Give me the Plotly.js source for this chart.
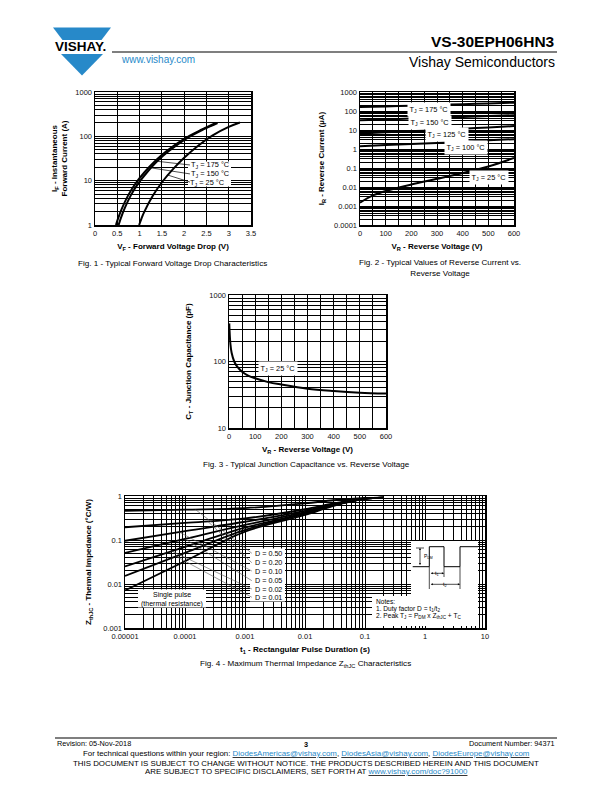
<!DOCTYPE html>
<html><head><meta charset="utf-8">
<script src="https://cdn.plot.ly/plotly-3.0.1.min.js"></script>
<style>html,body{margin:0;padding:0;background:#fff}</style>
</head><body><div id="chart" style="width:612px;height:792px"></div>
<script>
// ---------- Fig. 1 data: forward voltage (V) vs current (A) ----------
const fig1_v175 = [0.47,0.52,0.6,0.75,0.92,1.1,1.35,1.6,2.0,2.4,2.71];
const fig1_i175 = [1,1.43,2.31,4.78,8.9,15.1,27.7,45.9,88,143,200];
const fig1_v150 = [0.53,0.58,0.66,0.81,0.98,1.16,1.4,1.65,2.04,2.43,2.75];
const fig1_i150 = [1,1.43,2.31,4.78,8.9,15.1,27.7,45.9,88,143,200];
const fig1_v25  = [0.99,1.04,1.1,1.3,1.52,1.75,2.0,2.3,2.64,3.0,3.25];
const fig1_i25  = [1,1.38,1.93,4.63,9.7,18.2,32.9,60,105,163,205];
const fig1_xticks = [0,0.5,1,1.5,2,2.5,3,3.5];
const fig1_xlabels = ['0','0.5','1','1.5','2','2.5','3','3.5'];
const fig1_yticks = [1,10,100,1000];
const fig1_ylabels = ['1','10','100','1000'];

// ---------- Fig. 2 data: reverse voltage (V) vs reverse current (µA) ----------
const fig2_v = [0,100,200,300,400,500,600];
const fig2_i175 = [160,175,190,208,228,250,275];
const fig2_i150 = [33,36,40,44,49,54,60];
const fig2_i125 = [6.5,7.5,8.7,10,11.6,13.6,16];
const fig2_i100 = [1.4,1.6,1.85,2.1,2.45,2.85,3.3];
const fig2_v25 = [0,50,100,200,300,400,500,600];
const fig2_i25 = [0.0015,0.0036,0.0062,0.0135,0.027,0.055,0.12,0.34];
const fig2_xticks = [0,100,200,300,400,500,600];
const fig2_yticks = [0.0001,0.001,0.01,0.1,1,10,100,1000];
const fig2_ylabels = ['0.0001','0.001','0.01','0.1','1','10','100','1000'];

// ---------- Fig. 3 data: reverse voltage (V) vs junction capacitance (pF) ----------
const fig3_v = [1,3,5,10,20,30,50,75,100,150,200,300,400,500,600];
const fig3_c = [374,250,190,135,100,85,70,61,56,49,45,39,36,34,33];
const fig3_xticks = [0,100,200,300,400,500,600];
const fig3_yticks = [10,100,1000];
const fig3_ylabels = ['10','100','1000'];

// ---------- Fig. 4 data: pulse duration (s) vs thermal impedance (°C/W) ----------
const fig4_t = [1e-5,1e-4,1e-3,1e-2,3e-2,1e-1,2e-1];
const fig4_d50 = [0.46,0.49,0.53,0.68,0.80,0.90,0.92];
const fig4_d20 = [0.195,0.245,0.31,0.50,0.68,0.88,0.92];
const fig4_d10 = [0.096,0.16,0.26,0.46,0.65,0.87,0.92];
const fig4_d05 = [0.051,0.106,0.22,0.43,0.63,0.87,0.92];
const fig4_d02 = [0.025,0.07,0.19,0.41,0.62,0.86,0.92];
const fig4_d01 = [0.0152,0.051,0.17,0.39,0.61,0.86,0.92];
const fig4_single = [0.0071,0.033,0.155,0.37,0.60,0.86,0.92];
const fig4_xticks = [1e-5,1e-4,1e-3,1e-2,1e-1,1,10];
const fig4_xlabels = ['0.00001','0.0001','0.001','0.01','0.1','1','10'];
const fig4_yticks = [0.001,0.01,0.1,1];
const fig4_ylabels = ['0.001','0.01','0.1','1'];
const fig4_dlabels = ['D = 0.50','D = 0.20','D = 0.10','D = 0.05','D = 0.02','D = 0.01'];

// ---------- page geometry helpers ----------
const W = 612, H = 792;
const X = p => p / W;          // page px -> paper x
const Y = p => 1 - p / H;      // page px -> paper y
const F = 'Liberation Sans, Arial, Helvetica, sans-serif';
const BLUE = '#2789c9';

function logMinor(d0, d1) {
  const v = [];
  for (let d = d0; d < d1; d++) for (let k = 2; k <= 9; k++) v.push(k * Math.pow(10, d));
  return v;
}
function linMinor(a, b, step, major) {
  const v = [];
  for (let x = a; x <= b + 1e-9; x += step) if (Math.abs((x / major) - Math.round(x / major)) > 1e-6) v.push(x);
  return v;
}
const TICKFONT = {family: F, size: 7.5, color: '#111'};
const TITLEFONT = {family: F, size: 8, color: '#000', weight: 700};
function axis(o) {
  return Object.assign({
    showline: true, linecolor: '#000', linewidth: 1.5, mirror: true,
    ticks: '', showgrid: true, gridcolor: '#000', gridwidth: 1,
    zeroline: false, tickfont: TICKFONT, automargin: false, fixedrange: true
  }, o);
}
function minorGrid(vals) {
  return {tickmode: 'array', tickvals: vals, showgrid: true, gridcolor: '#000', gridwidth: 1, ticks: ''};
}
function line(x, y, xa, ya, w) {
  return {x: x, y: y, xaxis: xa, yaxis: ya, mode: 'lines', hoverinfo: 'skip',
          line: {color: '#000', width: w || 2, shape: 'spline', smoothing: 1}};
}

const traces = [
  line(fig1_v175, fig1_i175, 'x', 'y'),
  line(fig1_v150, fig1_i150, 'x', 'y'),
  line(fig1_v25, fig1_i25, 'x', 'y'),
  line(fig2_v, fig2_i175, 'x2', 'y2'),
  line(fig2_v, fig2_i150, 'x2', 'y2'),
  line(fig2_v, fig2_i125, 'x2', 'y2'),
  line(fig2_v, fig2_i100, 'x2', 'y2'),
  line(fig2_v25, fig2_i25, 'x2', 'y2'),
  line(fig3_v, fig3_c, 'x3', 'y3'),
  line(fig4_t, fig4_d50, 'x4', 'y4', 1.8),
  line(fig4_t, fig4_d20, 'x4', 'y4', 1.8),
  line(fig4_t, fig4_d10, 'x4', 'y4', 1.8),
  line(fig4_t, fig4_d05, 'x4', 'y4', 1.8),
  line(fig4_t, fig4_d02, 'x4', 'y4', 1.8),
  line(fig4_t, fig4_d01, 'x4', 'y4', 1.8),
  line(fig4_t, fig4_single, 'x4', 'y4', 1.8)
];

const ann = [];
function txt(text, px, py, o) {
  ann.push(Object.assign({text: text, x: X(px), y: Y(py), xref: 'paper', yref: 'paper',
    showarrow: false, xanchor: 'center', yanchor: 'middle',
    font: {family: F, size: 7.4, color: '#000'}}, o || {}));
}

// header
txt('<b>VS-30EPH06HN3</b>', 557, 42, {xanchor: 'right', font: {family: F, size: 15.5, color: '#000'}});
txt('Vishay Semiconductors', 557, 62, {xanchor: 'right', font: {family: F, size: 14, color: '#000'}});
txt('www.vishay.com', 119, 59, {xanchor: 'left', font: {family: F, size: 10, color: BLUE}});
txt('<b>VISHAY.</b>', 80, 46.5, {font: {family: F, size: 13.5, color: '#000'}});

// captions
const CAP = {family: F, size: 8.1, color: '#000'};
txt('Fig. 1 - Typical Forward Voltage Drop Characteristics', 172, 263.5, {font: CAP});
txt('Fig. 2 - Typical Values of Reverse Current vs.<br>Reverse Voltage', 440, 267.5, {font: CAP});
txt('Fig. 3 - Typical Junction Capacitance vs. Reverse Voltage', 306, 464, {font: CAP});
txt('Fig. 4 - Maximum Thermal Impedance Z<sub>thJC</sub> Characteristics', 305, 664, {font: CAP});

// fig1 labels
txt('T<sub>J</sub> = 175 °C', 210, 165.5);
txt('T<sub>J</sub> = 150 °C', 210, 174);
txt('T<sub>J</sub> = 25 °C', 207.5, 182.5);

// fig2 labels
const boxed = {bgcolor: '#fff', borderpad: 1.5};
txt('T<sub>J</sub> = 175 °C', 429, 110, boxed);
txt('T<sub>J</sub> = 150 °C', 430, 122.3, boxed);
txt('T<sub>J</sub> = 125 °C', 447, 135, boxed);
txt('T<sub>J</sub> = 100 °C', 466, 147.3, boxed);
txt('T<sub>J</sub> = 25 °C', 489, 177.7, boxed);

// fig3 label
txt('T<sub>J</sub> = 25 °C', 277.5, 369, boxed);

// fig4 labels
const dY = [553.3, 562.7, 571, 580.7, 589, 597.3];
fig4_dlabels.forEach((s, i) => txt(s, 253, dY[i], {xanchor: 'left', font: {family: F, size: 7.2, color: '#000'}}));
txt('Single pulse', 172, 595, {font: {family: F, size: 7, color: '#000'}});
txt('(thermal resistance)', 172, 603.5, {font: {family: F, size: 7, color: '#000'}});
txt('Notes:', 374, 601, {xanchor: 'left', font: {family: F, size: 6.6, color: '#000'}});
txt('1. Duty factor D = t<sub>1</sub>/t<sub>2</sub>', 374, 608.5, {xanchor: 'left', font: {family: F, size: 6.6, color: '#000'}});
txt('2. Peak T<sub>J</sub> = P<sub>DM</sub> x Z<sub>thJC</sub> + T<sub>C</sub>', 374, 616, {xanchor: 'left', font: {family: F, size: 6.6, color: '#000'}});
txt('P<sub>DM</sub>', 422, 556.5, {xanchor: 'left', font: {family: F, size: 5, color: '#000'}});
txt('t<sub>1</sub>', 436.7, 573.3, {font: {family: F, size: 5.5, color: '#000'}, bgcolor: '#fff', borderpad: 0});
txt('t<sub>2</sub>', 444.7, 584.3, {font: {family: F, size: 5.5, color: '#000'}, bgcolor: '#fff', borderpad: 0});
// pulse arrows
function arrow(px, py, axp, ayp) {
  ann.push({x: X(px), y: Y(py), xref: 'paper', yref: 'paper', text: '', showarrow: true,
    ax: axp, ay: ayp, arrowhead: 2, arrowside: 'end+start', arrowsize: 0.6, arrowwidth: 0.7,
    arrowcolor: '#000', standoff: 0, startstandoff: 0});
}
arrow(420, 548, 0, 18.5);
arrow(444, 573.3, -14.7, 0);
arrow(460, 584.3, -30.7, 0);

// footer
const FOOT = {family: F, size: 7.3, color: '#000'};
const FOOT2 = {family: F, size: 7.9, color: '#000'};
txt('Revision: 05-Nov-2018', 55, 743.5, {xanchor: 'left', font: FOOT});
txt('<b>3</b>', 306, 744, {font: FOOT});
txt('Document Number: 94371', 557, 743.5, {xanchor: 'right', font: FOOT});
const L = s => "<u><span style='color:" + BLUE + "'>" + s + "</span></u>";
txt('For technical questions within your region: ' + L('DiodesAmericas@vishay.com') + ', ' + L('DiodesAsia@vishay.com') + ', ' + L('DiodesEurope@vishay.com'), 306, 753.5, {font: FOOT2});
txt('THIS DOCUMENT IS SUBJECT TO CHANGE WITHOUT NOTICE. THE PRODUCTS DESCRIBED HEREIN AND THIS DOCUMENT', 306, 763, {font: FOOT2});
txt('ARE SUBJECT TO SPECIFIC DISCLAIMERS, SET FORTH AT ' + L('www.vishay.com/doc?91000'), 306, 771.5, {font: FOOT2});

// shapes
const shapes = [];
function pRect(x0, y0, x1, y1) {
  shapes.push({type: 'rect', xref: 'paper', yref: 'paper', x0: X(x0), x1: X(x1), y0: Y(y1), y1: Y(y0),
    fillcolor: '#fff', line: {width: 0}, layer: 'above'});
}
function pPath(pts, o) {
  const d = pts.map((p, i) => (i ? 'L' : 'M') + X(p[0]) + ',' + Y(p[1])).join(' ');
  shapes.push(Object.assign({type: 'path', xref: 'paper', yref: 'paper', path: d, layer: 'above',
    line: {color: '#000', width: 1}}, o || {}));
}
// logo
shapes.push({type: 'path', xref: 'paper', yref: 'paper', layer: 'above', line: {width: 0}, fillcolor: BLUE,
  path: 'M' + X(53) + ',' + Y(27.5) + ' L' + X(111) + ',' + Y(27.5) + ' L' + X(101.5) + ',' + Y(40) + ' L' + X(62.5) + ',' + Y(40) + ' Z'});
shapes.push({type: 'path', xref: 'paper', yref: 'paper', layer: 'above', line: {width: 0}, fillcolor: BLUE,
  path: 'M' + X(61) + ',' + Y(54) + ' L' + X(103) + ',' + Y(54) + ' L' + X(82) + ',' + Y(75.5) + ' Z'});
// header / footer rules
shapes.push({type: 'line', xref: 'paper', yref: 'paper', x0: X(112), x1: X(557), y0: Y(52), y1: Y(52), line: {color: '#000', width: 1.2}});
shapes.push({type: 'line', xref: 'paper', yref: 'paper', x0: X(55), x1: X(557), y0: Y(738), y1: Y(738), line: {color: '#000', width: 1.2}});

// fig1 label box and leaders
pRect(188, 161.5, 231, 186.5);
const fig1_leaders = [[1.35, 27.7, 2.13, 22.6], [1.25, 19.5, 2.13, 14.2], [1.62, 13.5, 2.13, 9.3]];
fig1_leaders.forEach(l => shapes.push({type: 'line', xref: 'x', yref: 'y', x0: l[0], y0: l[1], x1: l[2], y1: l[3],
  line: {color: '#000', width: 0.7}, layer: 'above'}));

// fig4 label boxes
pRect(250, 548.5, 285, 601.5);
pRect(138, 589.5, 206, 607.5);
pRect(372, 596, 478, 626);
pRect(411, 541, 478, 597);
// fig4 leaders
const fig4_leaders = [[1.5e-4, 0.49], [2.4e-4, 0.265], [8e-5, 0.152], [1e-4, 0.106], [6e-5, 0.056], [7e-5, 0.043]];
const leadEndT = 1.3e-3;
const leadEndZ = [0.0499, 0.0305, 0.0197, 0.0119, 0.0077, 0.005];
fig4_leaders.forEach((l, i) => shapes.push({type: 'line', xref: 'x4', yref: 'y4', x0: l[0], y0: l[1], x1: leadEndT, y1: leadEndZ[i],
  line: {color: '#555', width: 0.6}, layer: 'above'}));
// pulse waveform
pPath([[412.7, 566.7], [429.3, 566.7], [429.3, 546.7], [444, 546.7], [444, 566.7], [460, 566.7], [460, 546.7], [478, 546.7]]);
pPath([[429.3, 566.7], [429.3, 589]], {line: {color: '#000', width: 0.7}});
pPath([[444, 566.7], [444, 577]], {line: {color: '#000', width: 0.7}});
pPath([[460, 566.7], [460, 589]], {line: {color: '#000', width: 0.7}});
pPath([[416, 548], [424, 548]], {line: {color: '#000', width: 0.7}});

const layout = {
  width: W, height: H, margin: {l: 0, r: 0, t: 0, b: 0},
  paper_bgcolor: '#fff', plot_bgcolor: '#fff', showlegend: false,
  font: {family: F, color: '#000'},
  // Fig 1
  xaxis: axis({domain: [X(95), X(251)], anchor: 'y', range: [0, 3.5], tickmode: 'array',
    tickvals: fig1_xticks, ticktext: fig1_xlabels,
    title: {text: 'V<sub>F</sub> - Forward Voltage Drop (V)', font: TITLEFONT, standoff: 7}}),
  yaxis: axis({domain: [Y(225), Y(92)], anchor: 'x', type: 'log', range: [0, 3], tickmode: 'array',
    tickvals: fig1_yticks, ticktext: fig1_ylabels, minor: minorGrid(logMinor(0, 3)),
    title: {text: 'I<sub>F</sub> - Instantaneous<br>Forward Current (A)', font: TITLEFONT, standoff: 6}}),
  // Fig 2
  xaxis2: axis({domain: [X(360), X(514)], anchor: 'y2', range: [0, 600], tickmode: 'array',
    tickvals: fig2_xticks, minor: minorGrid(linMinor(0, 600, 50, 100)),
    title: {text: 'V<sub>R</sub> - Reverse Voltage (V)', font: TITLEFONT, standoff: 7}}),
  yaxis2: axis({domain: [Y(225), Y(92)], anchor: 'x2', type: 'log', range: [-4, 3], tickmode: 'array',
    tickvals: fig2_yticks, ticktext: fig2_ylabels, minor: minorGrid(logMinor(-4, 3)),
    title: {text: 'I<sub>R</sub> - Reverse Current (µA)', font: TITLEFONT, standoff: 8}}),
  // Fig 3
  xaxis3: axis({domain: [X(229), X(386)], anchor: 'y3', range: [0, 600], tickmode: 'array',
    tickvals: fig3_xticks, minor: minorGrid(linMinor(0, 600, 50, 100)),
    title: {text: 'V<sub>R</sub> - Reverse Voltage (V)', font: TITLEFONT, standoff: 7}}),
  yaxis3: axis({domain: [Y(428), Y(295)], anchor: 'x3', type: 'log', range: [1, 3], tickmode: 'array',
    tickvals: fig3_yticks, ticktext: fig3_ylabels, minor: minorGrid(logMinor(1, 3)),
    title: {text: 'C<sub>T</sub> - Junction Capacitance (pF)', font: TITLEFONT, standoff: 16}}),
  // Fig 4
  xaxis4: axis({domain: [X(125), X(485)], anchor: 'y4', type: 'log', range: [-5, 1], tickmode: 'array',
    tickvals: fig4_xticks, ticktext: fig4_xlabels, minor: minorGrid(logMinor(-5, 1)),
    title: {text: 't<sub>1</sub> - Rectangular Pulse Duration (s)', font: TITLEFONT, standoff: 7}}),
  yaxis4: axis({domain: [Y(628), Y(496)], anchor: 'x4', type: 'log', range: [-3, 0], tickmode: 'array',
    tickvals: fig4_yticks, ticktext: fig4_ylabels, minor: minorGrid(logMinor(-3, 0)),
    title: {text: 'Z<sub>thJC</sub> - Thermal Impedance (°C/W)', font: TITLEFONT, standoff: 10}}),
  annotations: ann,
  shapes: shapes
};

Plotly.newPlot('chart', traces, layout, {displayModeBar: false, staticPlot: true});
</script>
</body></html>
